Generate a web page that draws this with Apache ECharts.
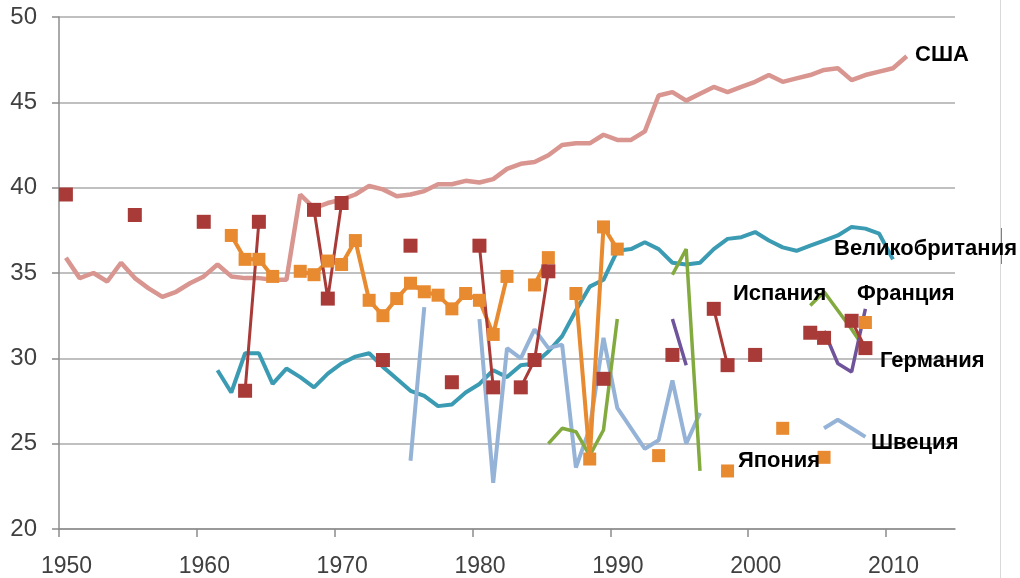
<!DOCTYPE html>
<html>
<head>
    <meta charset="utf-8">
    <title>ECharts</title>
    <script src="https://cdn.jsdelivr.net/npm/echarts@6/dist/echarts.min.js"></script>
</head>
<body style="margin:0;background:#fff;">
    <div id="main" style="width:1020px;height:578px;"></div>
    <script type="text/javascript">
        // values, one array per country
        var xTicks = [1950, 1960, 1970, 1980, 1990, 2000, 2010];

        // США: every year 1950..2011
        var usaStart = 1950;
        var usaValues = [35.9, 34.7, 35.0, 34.5, 35.6, 34.7, 34.1, 33.6, 33.9, 34.4,
                         34.8, 35.5, 34.8, 34.7, 34.7, 34.6, 34.6, 39.6, 38.8, 39.1,
                         39.3, 39.6, 40.1, 39.9, 39.5, 39.6, 39.8, 40.2, 40.2, 40.4,
                         40.3, 40.5, 41.1, 41.4, 41.5, 41.9, 42.5, 42.6, 42.6, 43.1,
                         42.8, 42.8, 43.3, 45.4, 45.6, 45.1, 45.5, 45.9, 45.6, 45.9,
                         46.2, 46.6, 46.2, 46.4, 46.6, 46.9, 47.0, 46.3, 46.6, 46.8,
                         47.0, 47.7];

        // Великобритания: every year 1961..2010
        var ukStart = 1961;
        var ukValues = [29.3, 28.0, 30.3, 30.3, 28.5, 29.4, 28.9, 28.3, 29.1,
                        29.7, 30.1, 30.3, 29.5, 28.8, 28.1, 27.8, 27.2, 27.3, 28.0,
                        28.5, 29.3, 28.9, 29.6, 29.7, 30.4, 31.3, 32.8, 34.2, 34.6,
                        36.3, 36.4, 36.8, 36.4, 35.6, 35.5, 35.6, 36.4, 37.0, 37.1,
                        37.4, 36.9, 36.5, 36.3, 36.6, 36.9, 37.2, 37.7, 37.6, 37.3,
                        35.8];

        // the rest have gaps, so years are listed
        var spainYears = [1950, 1955, 1960, 1963, 1964, 1968, 1969, 1970, 1973, 1975, 1978, 1980, 1981,
                          1983, 1984, 1985, 1989, 1994, 1997, 1998, 2000, 2004, 2005, 2007, 2008];
        var spainValues = [39.6, 38.4, 38.0, 28.1, 38.0, 38.7, 33.5, 39.1, 29.9, 36.6, 28.6, 36.6, 28.3,
                           28.3, 29.9, 35.1, 28.8, 30.2, 32.9, 29.6, 30.2, 31.5, 31.2, 32.2, 30.6];

        var japanYears = [1962, 1963, 1964, 1965, 1967, 1968, 1969, 1970, 1971, 1972, 1973, 1974, 1975,
                          1976, 1977, 1978, 1979, 1980, 1981, 1982, 1984, 1985, 1987, 1988, 1989, 1990,
                          1993, 1998, 2002, 2005, 2008];
        var japanValues = [37.2, 35.8, 35.8, 34.8, 35.1, 34.9, 35.7, 35.5, 36.9, 33.4, 32.5, 33.5, 34.4,
                           33.9, 33.7, 32.9, 33.8, 33.4, 31.4, 34.8, 34.3, 35.9, 33.8, 24.1, 37.7, 36.4,
                           24.3, 23.4, 25.9, 24.2, 32.1];

        var swedenYears = [1975, 1976, 1980, 1981, 1982, 1983, 1984, 1985, 1986, 1987, 1988, 1989,
                           1990, 1991, 1992, 1993, 1994, 1995, 1996, 2005, 2006, 2007, 2008];
        var swedenValues = [24.0, 33.0, 32.3, 22.7, 30.6, 30.0, 31.7, 30.6, 30.8, 23.6, 25.9, 31.2,
                            27.1, 25.9, 24.7, 25.2, 28.7, 25.0, 26.8, 25.9, 26.4, 25.9, 25.4];

        var franceYears = [1985, 1986, 1987, 1988, 1989, 1990, 1994, 1995, 1996, 2004, 2005, 2006, 2007, 2008];
        var franceValues = [25.0, 25.9, 25.7, 24.3, 25.8, 32.3, 34.9, 36.4, 23.4, 33.1, 33.9, 32.8, 31.7, 30.5];

        var germanyYears = [1994, 1995, 2005, 2006, 2007, 2008];
        var germanyValues = [32.3, 29.6, 31.6, 29.7, 29.2, 32.9];

        // in the original the points sit in the middle of each year
        var SHIFT = 0.5;

        function seq(start, n) {
            var out = [];
            for (var i = 0; i < n; i++) out.push(start + i);
            return out;
        }

        // [x, y] pairs, with a '-' to break the line where a year is missing
        function toPairs(years, vals) {
            var out = [];
            for (var i = 0; i < years.length; i++) {
                if (i > 0 && years[i] - years[i - 1] > 1) {
                    out.push([years[i - 1] + 1 + SHIFT, '-']);
                }
                out.push([years[i] + SHIFT, vals[i]]);
            }
            return out;
        }

        function lineSeries(name, color, width, data, symbol, size) {
            return {
                name: name,
                type: 'line',
                data: data,
                symbol: symbol || 'none',
                symbolSize: size || 0,
                showSymbol: !!symbol,
                connectNulls: false,
                lineStyle: { color: color, width: width },
                itemStyle: { color: color },
                emphasis: { disabled: true }
            };
        }

        var myChart = echarts.init(document.getElementById('main'));

        function label(text, x, y) {
            return {
                type: 'text',
                x: x,
                y: y,
                z: 100,
                style: {
                    text: text,
                    fill: '#000',
                    font: 'bold 22px "Liberation Sans", Arial, sans-serif',
                    align: 'left',
                    verticalAlign: 'middle'
                }
            };
        }

        var option = {
            animation: false,
            backgroundColor: '#fff',
            grid: { left: 59, right: 65, top: 17, bottom: 48 },
            xAxis: {
                type: 'value',
                min: 1950,
                max: 2015,
                splitLine: { show: false },
                axisLine: { show: true, lineStyle: { color: '#8C8C8C', width: 1.5 } },
                axisTick: { show: true, length: 8, customValues: xTicks, lineStyle: { color: '#8C8C8C', width: 1.5 } },
                axisLabel: {
                    customValues: xTicks,
                    formatter: function (v) { return String(v); },
                    margin: 26,
                    padding: [0, 0, 0, 15],
                    color: '#404040',
                    fontSize: 23,
                    fontFamily: '"Liberation Sans", Arial, sans-serif'
                }
            },
            yAxis: {
                type: 'value',
                min: 20,
                max: 50,
                interval: 5,
                axisLine: { show: true, lineStyle: { color: '#8C8C8C', width: 1.5 } },
                axisTick: { show: true, length: 7, lineStyle: { color: '#8C8C8C', width: 1.5 } },
                splitLine: { lineStyle: { color: '#ABABAB', width: 1.5 } },
                axisLabel: {
                    margin: 22,
                    color: '#404040',
                    fontSize: 24,
                    fontFamily: '"Liberation Sans", Arial, sans-serif'
                }
            },
            series: [
                lineSeries('США', '#D9958F', 4.5, toPairs(seq(usaStart, usaValues.length), usaValues)),
                lineSeries('Великобритания', '#3A9BB3', 4, toPairs(seq(ukStart, ukValues.length), ukValues)),
                lineSeries('Швеция', '#95B3D7', 4, toPairs(swedenYears, swedenValues)),
                lineSeries('Франция', '#82AA3F', 3.5, toPairs(franceYears, franceValues)),
                lineSeries('Германия', '#6F549B', 3.5, toPairs(germanyYears, germanyValues)),
                lineSeries('Япония', '#E88A30', 4, toPairs(japanYears, japanValues), 'rect', 13),
                lineSeries('Испания', '#A83A38', 3, toPairs(spainYears, spainValues), 'rect', 14)
            ],
            graphic: [
                { type: 'line', shape: { x1: 1000.5, y1: 0, x2: 1000.5, y2: 578 }, style: { stroke: '#D9D9D9', lineWidth: 1 } },
                { type: 'line', shape: { x1: 1001.5, y1: 228, x2: 1001.5, y2: 264 }, style: { stroke: '#7F7F7F', lineWidth: 1 } },
                label('США', 915, 55),
                label('Великобритания', 834, 249),
                label('Испания', 733, 294),
                label('Франция', 857, 294),
                label('Германия', 880, 361),
                label('Швеция', 871, 443),
                label('Япония', 738, 461)
            ]
        };

        myChart.setOption(option);
    </script>
</body>
</html>
